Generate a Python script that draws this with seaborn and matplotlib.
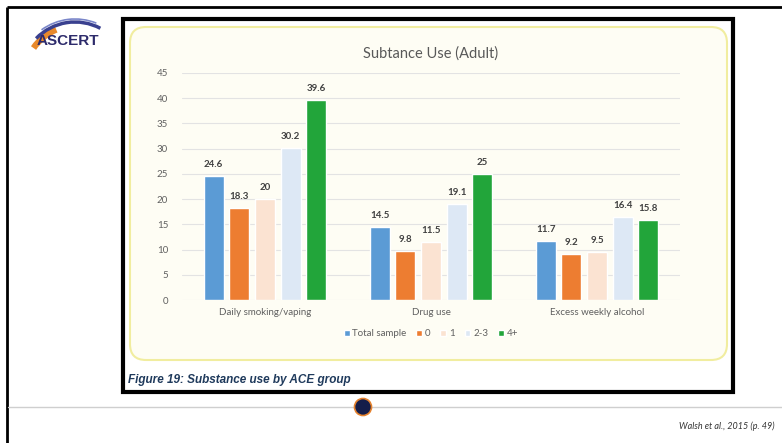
import numpy as np
import pandas as pd
import matplotlib
matplotlib.use("Agg")
import matplotlib.pyplot as plt
import seaborn as sns
from matplotlib.patches import FancyBboxPatch, Circle, Arc

# chart data
categories = ["Daily smoking/vaping", "Drug use", "Excess weekly alcohol"]
groups = ["Total sample", "0", "1", "2-3", "4+"]
total_sample = [24.6, 14.5, 11.7]
ace_0 = [18.3, 9.8, 9.2]
ace_1 = [20, 11.5, 9.5]
ace_2_3 = [30.2, 19.1, 16.4]
ace_4plus = [39.6, 25, 15.8]
y_ticks = [0, 5, 10, 15, 20, 25, 30, 35, 40, 45]

colors = ["#5b9bd5", "#ed7d31", "#fbe3d2", "#dde8f5", "#22a53a"]

rows = []
for g, vals in zip(groups, [total_sample, ace_0, ace_1, ace_2_3, ace_4plus]):
    for c, v in zip(categories, vals):
        rows.append({"Category": c, "Group": g, "Value": v})
df = pd.DataFrame(rows)

sns.set_theme(style="white")
plt.rcParams["font.family"] = ["Lato", "DejaVu Sans"]

W, H = 782, 443
fig = plt.figure(figsize=(W / 100, H / 100), dpi=100)
fig.patch.set_facecolor("white")

# slide layer in pixel coordinates
bg = fig.add_axes([0, 0, 1, 1], zorder=0)
bg.set_xlim(0, W)
bg.set_ylim(H, 0)
bg.axis("off")

# outer slide border
bg.plot([6.5, W], [6.5, 6.5], color="black", lw=2, solid_capstyle="butt")
bg.plot([6.5, 6.5], [6.5, H], color="black", lw=2, solid_capstyle="butt")

# black frame around the pasted figure
bg.add_patch(plt.Rectangle((123, 19), 610, 373, fill=False, ec="black", lw=3))
# rounded chart box
bg.add_patch(FancyBboxPatch((142, 39), 573, 309, boxstyle="round,pad=12,rounding_size=16",
                            fc="#fefdf4", ec="#f1ed9f", lw=1.5))

bg.text(128, 380, "Figure 19: Substance use by ACE group", fontsize=8.5,
        fontweight="bold", fontstyle="italic", color="#1f3a5c",
        family=["Liberation Sans", "DejaVu Sans"], va="center", ha="left")

# footer line and dot
bg.plot([8, W], [407, 407], color="#cfcfcf", lw=1)
bg.add_patch(Circle((363, 407), 8.5, fc="#141d4a", ec="#e5822e", lw=1.2, zorder=3))
bg.text(775, 426, "Walsh et al., 2015 (p. 49)", fontsize=6.5, fontstyle="italic",
        color="#333333", ha="right", va="center")

# logo
bg.add_patch(Arc((75, 76), 100, 100, theta1=-146, theta2=-112, color="#e8892b", lw=4.5))
bg.add_patch(Arc((75, 76), 108, 108, theta1=-136, theta2=-62, color="#39408f", lw=2.5))
bg.add_patch(Arc((75, 76), 114, 114, theta1=-126, theta2=-68, color="#7a86c9", lw=1.2))
bg.text(68, 41, "ASCERT", fontsize=11, fontweight="heavy", color="#2d2b6b",
        family=["Liberation Sans", "DejaVu Sans"], ha="center", va="center")

# chart
ax = fig.add_axes([182 / W, 1 - 300 / H, 498 / W, 227 / H], zorder=1)
ax.set_facecolor("none")
sns.barplot(data=df, x="Category", y="Value", hue="Group", hue_order=groups,
            order=categories, palette=colors, width=0.774, gap=0.22,
            saturation=1, legend=True, ax=ax)

ax.set_ylim(0, 45)
ax.set_xlim(-0.5, 2.5)
ax.set_yticks(y_ticks)
ax.yaxis.grid(True, color="#e3e3e3", lw=0.8)
ax.set_axisbelow(True)
for s in ax.spines.values():
    s.set_visible(False)
ax.tick_params(axis="both", length=0, labelsize=7, labelcolor="#606060")
ax.tick_params(axis="y", pad=10)
ax.tick_params(axis="x", pad=6)
ax.set_xlabel("")
ax.set_ylabel("")

for cont in ax.containers:
    ax.bar_label(cont, fmt="%g", padding=5, fontsize=7, fontweight="bold", color="#404040")

ax.set_title("Subtance Use (Adult)", fontsize=10.5, color="#595959", pad=11)

leg = ax.legend(loc="center", bbox_to_anchor=(0.5, (300 - 334) / 227), ncol=5, frameon=False,
                fontsize=7, handlelength=0.6, handleheight=0.6, handletextpad=0.3,
                columnspacing=1.0)
for t in leg.get_texts():
    t.set_color("#606060")

fig.savefig("out.png", dpi=100)
